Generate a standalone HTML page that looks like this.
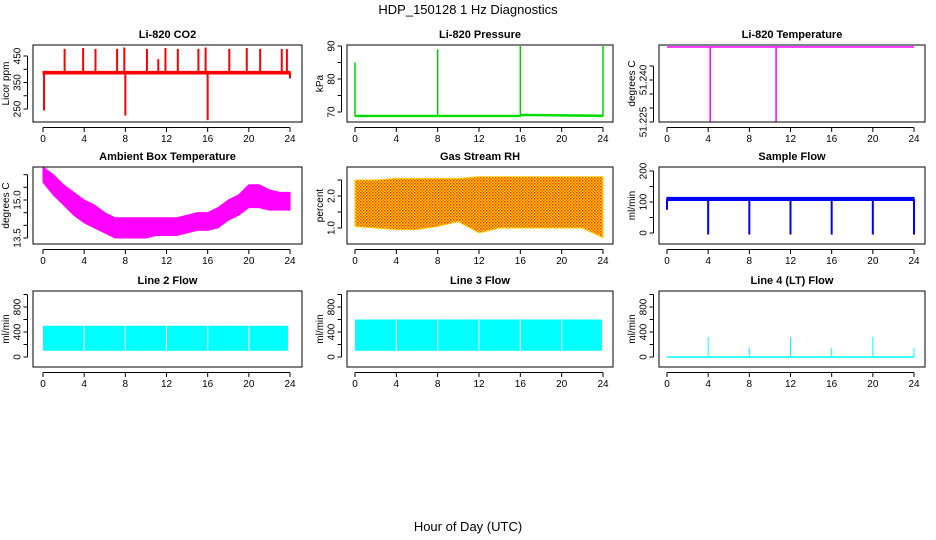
<!DOCTYPE html>
<html><head><meta charset="utf-8"><style>
html,body{margin:0;padding:0;background:#fff}
svg{display:block;font-family:"Liberation Sans",sans-serif}
</style></head><body>
<svg id="c" width="936" height="540" viewBox="0 0 936 540">
<defs>
<pattern id="rhpat" width="3" height="3" patternUnits="userSpaceOnUse">
<rect width="3" height="3" fill="#ffd400"/><rect width="1.5" height="1.5" fill="#ff3300"/><rect x="1.5" y="1.5" width="1.5" height="1.5" fill="#ff6600"/>
</pattern>
</defs>
<text x="468" y="14" text-anchor="middle" font-size="13">HDP_150128 1 Hz Diagnostics</text>
<text x="468" y="531" text-anchor="middle" font-size="13">Hour of Day (UTC)</text>
</svg>
<script>
// ---- data ----
const xTicks = [0,4,8,12,16,20,24];
const co2BandHours = [0,24];
const co2BandLo = [382,382];
const co2BandHi = [392,392];
const co2SpikeHours = [2.1,3.9,5.1,7.2,7.9,10.1,11.2,11.9,13.1,15.1,15.8,18.1,19.8,21.1,23.2,23.7,0.1,8.0,16.0,24.0];
const co2SpikeValues = [477,480,477,477,482,477,438,480,477,477,482,477,480,477,477,476,245,225,208,365];
const presBandHours = [0,16,16.01,24];
const presBandLo = [68.6,68.6,68.9,68.6];
const presBandHi = [69.0,69.0,69.3,69.1];
const presSpikeHours = [0,8,16,24];
const presSpikeValues = [85,89,90,90];
const tempLineHours = [0,24];
const tempLineValues = [51.2518,51.2518];
const tempSpikeHours = [4.2,10.6];
const tempSpikeValues = [51.2245,51.2245];
const ambHours = [0,1,2,3,4,5,6,7,8,9,10,11,12,13,14,15,16,17,18,19,20,21,22,23,24];
const ambHi = [16.3,16.0,15.6,15.3,15.0,14.8,14.5,14.3,14.3,14.3,14.3,14.3,14.3,14.3,14.4,14.5,14.5,14.7,15.0,15.2,15.6,15.6,15.4,15.3,15.3];
const ambLo = [15.7,15.2,14.8,14.4,14.1,13.9,13.7,13.5,13.5,13.5,13.5,13.6,13.6,13.6,13.7,13.8,13.8,13.9,14.2,14.4,14.7,14.7,14.6,14.6,14.6];
const rhHours = [0,2,4,6,8,10,12,14,16,18,20,22,24];
const rhHi = [2.5,2.5,2.55,2.55,2.55,2.55,2.6,2.6,2.6,2.6,2.6,2.6,2.6];
const rhLo = [1.05,1.0,0.95,0.95,1.05,1.2,0.85,1.0,1.0,1.0,1.0,1.0,0.7];
const flowBandHours = [0,24];
const flowBandLo = [105,105];
const flowBandHi = [115,115];
const flowSpikeHours = [0,4,8,12,16,20,24];
const flowSpikeValues = [75,-5,-5,-5,-5,-5,-5];
const l2Hours = [0,3.95,4.05,7.95,8.05,11.95,12.05,15.95,16.05,19.95,20.05,23.8];
const l2Hi = [500,500,500,500,500,500,500,500,500,500,500,500];
const l2Lo = [100,100,100,100,100,100,100,100,100,100,100,100];
const l3Hours = [0,3.95,4.05,7.95,8.05,11.95,12.05,15.95,16.05,19.95,20.05,23.9];
const l3Hi = [600,600,600,600,600,600,600,600,600,600,600,600];
const l3Lo = [100,100,100,100,100,100,100,100,100,100,100,100];
const l4LineHours = [0,24];
const l4LineValues = [0,0];
const l4SpikeHours = [4,8,12,16,20,24];
const l4SpikeValues = [320,150,320,150,320,150];

const NS="http://www.w3.org/2000/svg";
const svg=document.getElementById('c');
function mk(tag,attrs,parent){const e=document.createElementNS(NS,tag);for(const k in attrs)e.setAttribute(k,attrs[k]);(parent||svg).appendChild(e);return e;}

const cols=[{l:33,r:302,x0:43,x24:290},{l:347,r:613,x0:355,x24:603},{l:659,r:925,x0:667,x24:914}];
const rows=[{t:45,b:122},{t:167,b:244},{t:291,b:367}];

function panel(o){
  const c=cols[o.col], rw=rows[o.row];
  const g=mk('g',{});
  
  
  const xs=h=>c.x0+(c.x24-c.x0)*h/24;
  const ys=v=>o.y0px+(o.y1px-o.y0px)*(v-o.y0)/(o.y1-o.y0);
  const t=mk('text',{x:(c.l+c.r)/2,y:rw.t-7,'text-anchor':'middle','font-size':11,'font-weight':'bold'},g);
  t.textContent=o.title;
  
  
  const cid='clip'+o.col+o.row;
  const cp=mk('clipPath',{id:cid},g);mk('rect',{x:c.l,y:rw.t,width:c.r-c.l,height:rw.b-rw.t},cp);
  const m=mk('g',{'clip-path':'url(#'+cid+')'},g);
  if(o.band){
    const [H,lo,hi]=o.band;
    if(o.gaps){
      for(let i=0;i<H.length;i+=2){
        const r=mk('rect',{x:xs(H[i]),y:ys(hi[i]),width:xs(H[i+1])-xs(H[i]),height:ys(lo[i])-ys(hi[i]),fill:o.fill},m);
        
        
      }
    } else {
      let d='M'+H.map((h,i)=>xs(h)+','+ys(hi[i])).join(' L');
      d+=' L'+H.map((h,i)=>xs(h)+','+ys(lo[i])).reverse().join(' L')+' Z';
      const p=mk('path',{d:d,fill:o.fill,stroke:o.stroke||o.fill,'stroke-width':1},m);
      
      
    }
  }
  if(o.line){
    const [H,V]=o.line;
    const p=mk('polyline',{points:H.map((h,i)=>xs(h)+','+ys(V[i])).join(' '),fill:'none',stroke:o.color,'stroke-width':1.5},m);
    
    
  }
  if(o.spikes){
    const [H,V]=o.spikes;
    H.forEach((h,i)=>{
      const l=mk('line',{x1:xs(h),x2:xs(h),y1:ys(o.base),y2:ys(V[i]),stroke:o.color,'stroke-width':o.sw||2},m);
      
      
    });
  }
  const b=mk('rect',{x:c.l,y:rw.t,width:c.r-c.l,height:rw.b-rw.t,fill:'none',stroke:'#000','stroke-width':1},g);
  
  
  const ax=mk('g',{},g);
  
  
  mk('line',{x1:xs(0),x2:xs(24),y1:rw.b+5.5,y2:rw.b+5.5,stroke:'#000'},ax);
  xTicks.forEach(h=>{
    mk('line',{x1:xs(h),x2:xs(h),y1:rw.b+5.5,y2:rw.b+10,stroke:'#000'},ax);
    const tx=mk('text',{x:xs(h),y:rw.b+20,'text-anchor':'middle','font-size':10},ax);
    tx.textContent=h;
  });
  const ay=mk('g',{},g);
  
  
  const yl=c.l-5.5;
  mk('line',{x1:yl,x2:yl,y1:ys(o.ticks[0]),y2:ys(o.ticks[o.ticks.length-1]),stroke:'#000'},ay);
  o.ticks.forEach(v=>{
    mk('line',{x1:yl,x2:yl-4,y1:ys(v),y2:ys(v),stroke:'#000'},ay);
  });
  o.labels.forEach((s,i)=>{
    const y=ys(o.labelVals[i]);
    const tx=mk('text',{x:yl-7,y:y,'text-anchor':'middle','font-size':10,transform:'rotate(-90 '+(yl-7)+' '+y+')'},ay);
    tx.textContent=s;
  });
  const yt=mk('text',{x:c.l-24,y:(rw.t+rw.b)/2,'text-anchor':'middle','font-size':10,transform:'rotate(-90 '+(c.l-24)+' '+((rw.t+rw.b)/2)+')'},g);
  yt.textContent=o.ylab;
  
  
}

panel({name:'co2-panel',col:0,row:0,title:'Li-820 CO2',ylab:'Licor ppm',y0:250,y1:450,y0px:109,y1px:56,
  ticks:[250,300,350,400,450],labels:['250','350','450'],labelVals:[250,350,450],
  band:[co2BandHours,co2BandLo,co2BandHi],fill:'#ff0000',color:'#ff0000',
  spikes:[co2SpikeHours,co2SpikeValues],base:388,sw:2});
panel({name:'pressure-panel',col:1,row:0,title:'Li-820 Pressure',ylab:'kPa',y0:70,y1:90,y0px:112,y1px:46,
  ticks:[70,75,80,85,90],labels:['70','80','90'],labelVals:[70,80,90],
  band:[presBandHours,presBandLo,presBandHi],fill:'#00dd00',color:'#00cc00',
  spikes:[presSpikeHours,presSpikeValues],base:69,sw:1.5});
panel({name:'li820-temperature-panel',col:2,row:0,title:'Li-820 Temperature',ylab:'degrees C',y0:51.225,y1:51.245,y0px:122,y1px:66,
  ticks:[51.225,51.23,51.235,51.24,51.245],labels:['51.225','51.240'],labelVals:[51.225,51.240],
  line:[tempLineHours,tempLineValues],color:'#ff00ff',
  spikes:[tempSpikeHours,tempSpikeValues],base:51.2518,sw:1.5});
panel({name:'ambient-temperature-panel',col:0,row:1,title:'Ambient Box Temperature',ylab:'degrees C',y0:13.5,y1:15.0,y0px:238,y1px:200,
  ticks:[13.5,14,14.5,15,15.5,16],labels:['13.5','15.0'],labelVals:[13.5,15.0],
  band:[ambHours,ambLo,ambHi],fill:'#ff00ff',color:'#ff00ff'});
panel({name:'gas-stream-rh-panel',col:1,row:1,title:'Gas Stream RH',ylab:'percent',y0:1.0,y1:2.0,y0px:228,y1px:196,
  ticks:[1,1.5,2,2.5],labels:['1.0','2.0'],labelVals:[1.0,2.0],
  band:[rhHours,rhLo,rhHi],fill:'url(#rhpat)',stroke:'#ffcc00',color:'#ff6600'});
panel({name:'sample-flow-panel',col:2,row:1,title:'Sample Flow',ylab:'ml/min',y0:0,y1:200,y0px:233,y1px:171,
  ticks:[0,50,100,150,200],labels:['0','100','200'],labelVals:[0,100,200],
  band:[flowBandHours,flowBandLo,flowBandHi],fill:'#0000ff',color:'#0000ff',
  spikes:[flowSpikeHours,flowSpikeValues],base:110,sw:2});
panel({name:'line2-flow-panel',col:0,row:2,title:'Line 2 Flow',ylab:'ml/min',y0:0,y1:800,y0px:357,y1px:307,
  ticks:[0,200,400,600,800,1000],labels:['0','400','800'],labelVals:[0,400,800],
  band:[l2Hours,l2Lo,l2Hi],gaps:true,fill:'#00ffff',color:'#00ffff'});
panel({name:'line3-flow-panel',col:1,row:2,title:'Line 3 Flow',ylab:'ml/min',y0:0,y1:800,y0px:357,y1px:307,
  ticks:[0,200,400,600,800,1000],labels:['0','400','800'],labelVals:[0,400,800],
  band:[l3Hours,l3Lo,l3Hi],gaps:true,fill:'#00ffff',color:'#00ffff'});
panel({name:'line4-flow-panel',col:2,row:2,title:'Line 4 (LT) Flow',ylab:'ml/min',y0:0,y1:800,y0px:357,y1px:307,
  ticks:[0,200,400,600,800,1000],labels:['0','400','800'],labelVals:[0,400,800],
  line:[l4LineHours,l4LineValues],color:'#00ffff',
  spikes:[l4SpikeHours,l4SpikeValues],base:0,sw:1});
</script>
</body></html>
